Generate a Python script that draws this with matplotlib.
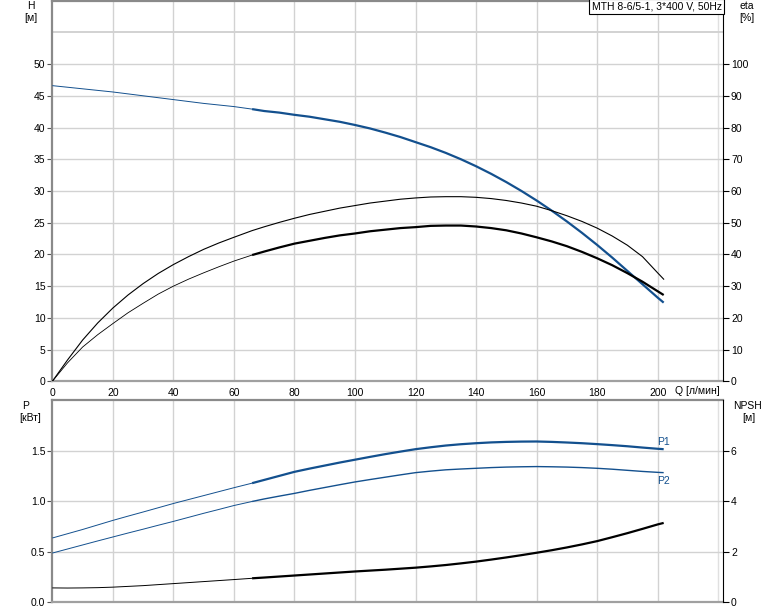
#! /usr/bin/env python3
#
# Pump curve sheet: H / eta over Q (top), P1 / P2 / NPSH over Q (bottom)
#

import numpy as np
import matplotlib
matplotlib.use("Agg")
import matplotlib.pyplot as plt

plt.rcParams['font.family'] = ['Liberation Sans', 'DejaVu Sans']
plt.rcParams['font.size'] = 7.5

# Data
q     = [0, 5, 10, 15, 20, 25, 30, 35, 40, 45, 50, 55, 60, 66, 70, 75, 80, 85, 90, 95,
         100, 105, 110, 115, 120, 125, 130, 135, 140, 145, 150, 155, 160, 165, 170, 175,
         180, 185, 190, 195, 200, 202]
head  = [46.6, 46.35, 46.1, 45.85, 45.6, 45.3, 45.0, 44.7, 44.4, 44.1, 43.8, 43.55, 43.3, 42.9, 42.6, 42.35, 42.0, 41.7, 41.3, 40.9,
         40.4, 39.85, 39.2, 38.5, 37.7, 36.9, 36.0, 35.0, 33.9, 32.7, 31.4, 30.0, 28.5, 26.9, 25.2, 23.4,
         21.5, 19.5, 17.4, 15.3, 13.2, 12.4]
etaP  = [0, 6.7, 13.0, 18.4, 23.1, 27.2, 30.8, 34.0, 36.8, 39.3, 41.6, 43.6, 45.4, 47.5, 48.7, 50.1, 51.4, 52.6, 53.6, 54.6,
         55.4, 56.2, 56.8, 57.4, 57.8, 58.1, 58.2, 58.2, 58.0, 57.6, 57.0, 56.2, 55.2, 53.8, 52.2, 50.4,
         48.3, 45.8, 42.9, 39.3, 34.2, 32.2]
etaT  = [0, 5.8, 10.8, 14.7, 18.2, 21.6, 24.6, 27.5, 30.0, 32.2, 34.2, 36.1, 37.9, 39.8, 40.9, 42.2, 43.4, 44.3, 45.2, 46.0,
         46.6, 47.3, 47.8, 48.3, 48.6, 49.0, 49.1, 49.1, 48.8, 48.3, 47.6, 46.6, 45.4, 44.1, 42.6, 40.8,
         38.8, 36.6, 34.1, 31.4, 28.4, 27.2]
p1    = [0.636, 0.678, 0.72, 0.765, 0.81, 0.852, 0.893, 0.935, 0.977, 1.016, 1.055, 1.094, 1.133, 1.178, 1.21, 1.25, 1.29, 1.322, 1.352, 1.382,
         1.41, 1.438, 1.465, 1.49, 1.514, 1.533, 1.55, 1.563, 1.573, 1.581, 1.586, 1.589, 1.59, 1.586, 1.58, 1.573,
         1.564, 1.554, 1.543, 1.53, 1.518, 1.514]
p2    = [0.487, 0.527, 0.567, 0.607, 0.646, 0.685, 0.723, 0.762, 0.80, 0.84, 0.88, 0.918, 0.957, 0.997, 1.022, 1.05, 1.077, 1.107, 1.135, 1.163,
         1.19, 1.214, 1.237, 1.26, 1.282, 1.297, 1.31, 1.318, 1.325, 1.332, 1.337, 1.34, 1.342, 1.34, 1.337, 1.332,
         1.325, 1.316, 1.305, 1.294, 1.285, 1.282]
npsh  = [0.57, 0.565, 0.57, 0.58, 0.60, 0.63, 0.66, 0.70, 0.74, 0.78, 0.82, 0.86, 0.90, 0.95, 0.98, 1.02, 1.06, 1.10, 1.14, 1.18,
         1.22, 1.255, 1.29, 1.33, 1.37, 1.42, 1.475, 1.54, 1.61, 1.69, 1.775, 1.865, 1.96, 2.06, 2.17, 2.29,
         2.42, 2.575, 2.735, 2.905, 3.08, 3.14]
qStart = 66   # start of the thick (operating) range

title = "MTH 8-6/5-1, 3*400 V, 50Hz"
xTicks = list(range(0, 201, 20))

blue = '#13508e'
gridCol = '#d2d2d2'
spineCol = '#8a8a8a'

q = np.array(q)
k = int(np.where(q == qStart)[0][0])

def split_plot(ax, y, col, lwThin, lwThick):
	y = np.array(y)
	ax.plot(q[:k+1], y[:k+1], color=col, lw=lwThin, solid_capstyle='butt', zorder=3)
	ax.plot(q[k:], y[k:], color=col, lw=lwThick, solid_capstyle='butt', zorder=3)

def style_axes(ax, axr):
	for s in ['top', 'left']:
		ax.spines[s].set_color(spineCol)
		ax.spines[s].set_linewidth(1.6)
	ax.spines['bottom'].set_color('#a0a0a0')
	ax.spines['bottom'].set_linewidth(1.6)
	ax.spines['right'].set_visible(False)
	for s in ['top', 'left', 'bottom']:
		axr.spines[s].set_visible(False)
	axr.spines['right'].set_color('black')
	axr.spines['right'].set_linewidth(0.8)
	ax.tick_params(axis='y', length=3.5, width=0.8, color='#555555', pad=1.5)
	axr.tick_params(axis='y', length=4, width=0.8, color='black', pad=1.5)
	ax.tick_params(axis='x', length=0, pad=4.5)
	for g in range(20, 221, 20):
		ax.axvline(g, color='#e0e0e0' if g == 220 else gridCol, lw=1.0, zorder=0)

fig = plt.figure(figsize=(7.74, 6.11), dpi=100)

# Top: H and eta
ax1 = fig.add_axes([0.0676, 0.3759, 0.8669, 0.6231])
ax1r = ax1.twinx()
ax1.set_xlim(0, 221.7)
ax1.set_ylim(0, 60)
ax1r.set_ylim(0, 120)
style_axes(ax1, ax1r)
for g in range(5, 56, 5):
	ax1.axhline(g, color=gridCol, lw=1.4 if g == 55 else 1.0, zorder=0)
ax1.set_yticks(range(0, 51, 5))
ax1r.set_yticks(range(0, 101, 10))
ax1.set_xticks(xTicks)

split_plot(ax1, head, blue, 0.7, 1.6)
ax1r.plot(q, etaP, color='black', lw=0.8, zorder=3)
split_plot(ax1r, etaT, 'black', 0.6, 1.6)

ax1r.text(0.9975, 0.997, title, transform=ax1r.transAxes, ha='right', va='top',
	bbox=dict(boxstyle='square,pad=0.25', fc='white', ec='black', lw=0.8), zorder=5)

# Bottom: P1, P2 and NPSH
ax2 = fig.add_axes([0.0676, 0.0142, 0.8669, 0.3311])
ax2r = ax2.twinx()
ax2.set_xlim(0, 221.7)
ax2.set_ylim(0, 2.0)
ax2r.set_ylim(0, 8.0)
style_axes(ax2, ax2r)
for g in [0.5, 1.0, 1.5]:
	ax2.axhline(g, color=gridCol, lw=1.0, zorder=0)
ax2.set_yticks([0.0, 0.5, 1.0, 1.5])
ax2.set_yticklabels(['0.0', '0.5', '1.0', '1.5'])
ax2r.set_yticks([0, 2, 4, 6])
ax2.set_xticks([])

split_plot(ax2, p1, blue, 0.7, 1.6)
split_plot(ax2, p2, blue, 0.7, 1.0)
split_plot(ax2r, npsh, 'black', 0.7, 1.6)

ax2.annotate("P1", (q[-1], p1[-1]), xytext=(-5, 5), textcoords='offset points',
	ha='left', va='center', color=blue)
ax2.annotate("P2", (q[-1], p2[-1]), xytext=(-5, -6), textcoords='offset points',
	ha='left', va='center', color=blue)

# Axis captions
fig.text(30.5/774, 1-6/611, "H", ha='center', va='center')
fig.text(31/774, 1-18/611, "[м]", ha='center', va='center')
fig.text(747/774, 1-6/611, "eta", ha='center', va='center')
fig.text(747/774, 1-18/611, "[%]", ha='center', va='center')
fig.text(26/774, 1-406/611, "P", ha='center', va='center')
fig.text(30/774, 1-418/611, "[кВт]", ha='center', va='center')
fig.text(748/774, 1-406/611, "NPSH", ha='center', va='center')
fig.text(749/774, 1-418/611, "[м]", ha='center', va='center')
fig.text(720/774, 1-391/611, "Q [л/мин]", ha='right', va='center')

fig.savefig("out.png", dpi=100)
plt.close(fig)

# EOF
